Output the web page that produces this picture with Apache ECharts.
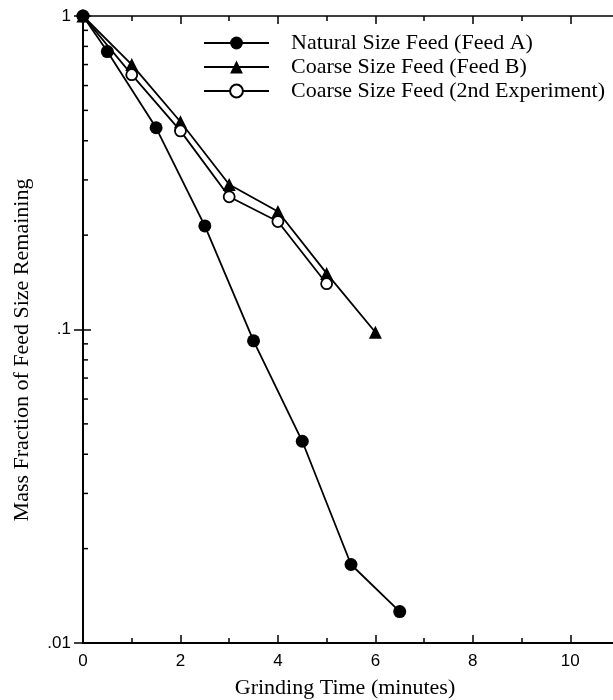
<!DOCTYPE html>
<html>
<head>
<meta charset="utf-8">
<script src="https://cdn.jsdelivr.net/npm/echarts@6/dist/echarts.min.js"></script>
<style>
  html, body { margin: 0; padding: 0; background: #fff; }
  #chart { width: 613px; height: 700px; }
</style>
</head>
<body>
<div id="chart"></div>
<script>
// Grinding time (minutes) and mass fraction of feed size remaining
const timeA = [0, 0.5, 1.5, 2.5, 3.5, 4.5, 5.5, 6.5];
const feedA = [1, 0.77, 0.44, 0.214, 0.092, 0.044, 0.0178, 0.0126];

const timeB = [0, 1, 2, 3, 4, 5, 6];
const feedB = [1, 0.70, 0.46, 0.29, 0.238, 0.151, 0.098];

const time2 = [0, 1, 2, 3, 4, 5];
const feed2 = [1, 0.65, 0.43, 0.265, 0.221, 0.14];

const seriesNames = [
  'Natural Size Feed (Feed A)',
  'Coarse Size Feed (Feed B)',
  'Coarse Size Feed (2nd Experiment)'
];

const X_MIN = 0, X_MAX = 11, X_STEP = 2;
const Y_MIN = 0.01, Y_MAX = 1;
const yTickLabels = { 1: '1', 0.1: '.1', 0.01: '.01' };
// log-axis minor ticks (2..9 within each decade)
const yMinorTicks = [0.02, 0.03, 0.04, 0.05, 0.06, 0.07, 0.08, 0.09,
                     0.2, 0.3, 0.4, 0.5, 0.6, 0.7, 0.8, 0.9];

const SERIF = 'Liberation Serif';
const SANS = 'Liberation Sans';

const pairs = (xs, ys) => xs.map((x, i) => [x, ys[i]]);

const chart = echarts.init(document.getElementById('chart'), null, { renderer: 'canvas' });

const lineCommon = {
  type: 'line',
  xAxisIndex: 0,
  yAxisIndex: 0,
  lineStyle: { color: '#000', width: 1.8 },
  animation: false
};

chart.setOption({
  backgroundColor: '#fff',
  animation: false,
  grid: { left: 83, top: 16, width: 536, height: 627, outerBoundsMode: 'none', containLabel: false },
  legend: {
    data: seriesNames,
    orient: 'vertical',
    left: 203,
    top: 30,
    padding: 0,
    itemWidth: 65,
    itemHeight: 16,
    itemGap: -2,
    textStyle: {
      fontFamily: SERIF,
      fontSize: 22,
      color: '#000',
      lineHeight: 16,
      padding: [10, 0, 0, 17]
    }
  },
  xAxis: [
    {
      type: 'value', position: 'bottom',
      min: X_MIN, max: X_MAX, interval: X_STEP,
      axisLine: { lineStyle: { color: '#000', width: 2 } },
      axisTick: { inside: true, length: 8, lineStyle: { color: '#000', width: 1.5 } },
      minorTick: { show: true, splitNumber: 2, length: 5, lineStyle: { color: '#000', width: 1.5 } },
      splitLine: { show: false },
      axisLabel: { fontFamily: SANS, fontSize: 17, color: '#000', margin: 10, showMaxLabel: false }
    },
    {
      type: 'value', position: 'top',
      min: X_MIN, max: X_MAX, interval: X_STEP,
      axisLine: { lineStyle: { color: '#000', width: 1.5 } },
      axisTick: { inside: true, length: 8, lineStyle: { color: '#000', width: 1.5 } },
      minorTick: { show: true, splitNumber: 2, length: 5, lineStyle: { color: '#000', width: 1.5 } },
      splitLine: { show: false },
      axisLabel: { show: false }
    }
  ],
  yAxis: [
    {
      type: 'log', logBase: 10, position: 'left',
      min: Y_MIN, max: Y_MAX,
      axisLine: { lineStyle: { color: '#000', width: 2 } },
      axisTick: { inside: true, length: 8, lineStyle: { color: '#000', width: 1.5 } },
      splitLine: { show: false },
      axisLabel: {
        fontFamily: SANS, fontSize: 17, color: '#000', margin: 12,
        formatter: v => yTickLabels[+v.toPrecision(3)] ?? ''
      }
    },
    {
      type: 'log', logBase: 10, position: 'right',
      min: Y_MIN, max: Y_MAX,
      axisLine: { lineStyle: { color: '#000', width: 1.5 } },
      axisTick: { inside: true, length: 9, lineStyle: { color: '#000', width: 1.5 } },
      splitLine: { show: false },
      axisLabel: { show: false }
    }
  ],
  graphic: [
    {
      type: 'text', x: 345, y: 688,
      style: {
        text: 'Grinding Time (minutes)', fontFamily: SERIF, fontSize: 22,
        fill: '#000', align: 'center', verticalAlign: 'middle'
      }
    },
    {
      type: 'text', x: 22, y: 350, rotation: Math.PI / 2,
      style: {
        text: 'Mass Fraction of Feed Size Remaining', fontFamily: SERIF, fontSize: 22,
        fill: '#000', align: 'center', verticalAlign: 'middle'
      }
    }
  ],
  series: [
    {
      // minor ticks of the logarithmic y axis, drawn inward from the left axis
      type: 'custom',
      xAxisIndex: 0, yAxisIndex: 0,
      silent: true,
      clip: false,
      data: yMinorTicks.map(v => [X_MIN, v]),
      renderItem: (params, api) => {
        const p = api.coord([api.value(0), api.value(1)]);
        return {
          type: 'line',
          shape: { x1: p[0], y1: p[1], x2: p[0] + 5, y2: p[1] },
          style: { stroke: '#000', lineWidth: 1.5 }
        };
      }
    },
    Object.assign({}, lineCommon, {
      name: seriesNames[1],
      data: pairs(timeB, feedB),
      symbol: 'triangle',
      symbolSize: 13,
      itemStyle: { color: '#000', borderColor: '#000', borderWidth: 0 },
      z: 3
    }),
    Object.assign({}, lineCommon, {
      name: seriesNames[2],
      data: pairs(time2, feed2),
      symbol: 'circle',
      symbolSize: 11,
      itemStyle: { color: '#fff', borderColor: '#000', borderWidth: 1.8 },
      z: 4
    }),
    Object.assign({}, lineCommon, {
      name: seriesNames[0],
      data: pairs(timeA, feedA),
      symbol: 'circle',
      symbolSize: 13,
      itemStyle: { color: '#000', borderColor: '#000', borderWidth: 0 },
      z: 5
    })
  ]
});
</script>
</body>
</html>
